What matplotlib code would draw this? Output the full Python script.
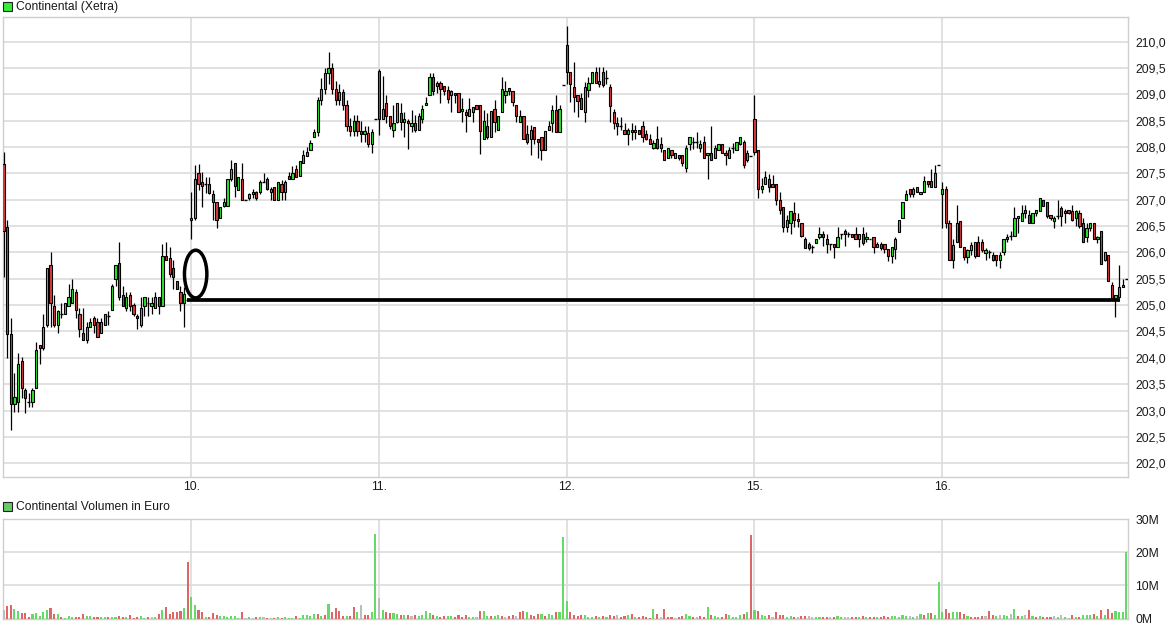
import matplotlib
matplotlib.use("Agg")
import matplotlib.pyplot as plt
from matplotlib.patches import Rectangle, Ellipse
import numpy as np

plt.rcParams['font.family'] = ['Liberation Sans', 'DejaVu Sans']

# ---------------- data (10-minute candles, (open, high, low, close)) ----------------
day_labels = ["09.", "10.", "11.", "12.", "15.", "16."]

d09 = [(207.68, 207.90, 205.54, 206.40), (206.49, 206.61, 204.00, 204.45), (204.45, 204.75, 202.63, 203.12),
       (203.12, 203.71, 202.98, 203.26), (203.17, 204.09, 202.98, 203.88), (203.94, 204.01, 203.24, 203.42),
       (203.39, 203.42, 202.96, 203.23), (203.17, 203.33, 203.07, 203.17), (203.17, 203.42, 203.07, 203.39),
       (203.42, 204.30, 203.42, 204.15), (204.24, 204.24, 203.88, 204.18), (204.18, 204.84, 204.15, 204.59),
       (204.63, 205.70, 204.59, 205.70), (205.76, 206.00, 204.59, 205.05), (204.99, 205.20, 204.59, 204.63),
       (204.63, 204.91, 204.48, 204.89), (204.84, 205.05, 204.75, 204.84), (204.84, 205.05, 204.84, 205.05),
       (204.99, 205.40, 204.99, 205.15), (205.05, 205.49, 205.05, 205.30), (205.24, 205.30, 204.75, 204.91),
       (204.84, 204.95, 204.40, 204.54), (204.48, 204.95, 204.33, 204.33), (204.33, 204.68, 204.29, 204.59),
       (204.59, 204.75, 204.59, 204.68), (204.75, 204.79, 204.48, 204.63), (204.68, 204.75, 204.40, 204.40),
       (204.48, 204.75, 204.48, 204.68), (204.63, 204.84, 204.63, 204.84), (204.80, 204.89, 204.63, 204.80),
       (204.91, 205.40, 204.91, 205.37), (205.49, 205.76, 205.37, 205.76), (205.79, 206.19, 205.10, 205.15),
       (205.20, 205.37, 204.99, 204.99), (204.94, 205.24, 204.89, 205.15), (205.20, 205.24, 204.89, 204.99),
       (205.00, 205.05, 204.79, 204.84), (204.79, 204.84, 204.54, 204.75), (204.63, 205.15, 204.59, 204.94),
       (204.99, 205.15, 204.79, 205.15), (205.05, 205.15, 204.79, 205.05), (204.99, 205.15, 204.84, 205.05),
       (204.94, 205.24, 204.94, 205.15), (205.15, 205.15, 204.84, 204.99), (204.99, 206.16, 204.99, 205.94),
       (205.94, 206.19, 205.85, 205.85), (205.90, 206.10, 205.54, 205.60), (205.70, 205.85, 205.30, 205.54),
       (205.46, 205.46, 205.30, 205.30), (205.24, 205.37, 204.89, 205.05), (205.05, 205.35, 204.59, 205.22),
       (205.10, 205.10, 205.10, 205.10)]

d10 = [(206.61, 207.15, 206.25, 206.65), (206.65, 207.66, 206.61, 207.40), (207.50, 207.68, 207.18, 207.30),
       (207.34, 207.53, 206.86, 207.26), (207.30, 207.44, 207.13, 207.30), (207.30, 207.44, 207.11, 207.13),
       (207.10, 207.18, 206.61, 206.95), (206.95, 206.95, 206.46, 206.61), (206.65, 206.86, 206.65, 206.86),
       (206.89, 207.04, 206.86, 206.95), (206.89, 207.40, 206.89, 207.40), (207.40, 207.75, 207.36, 207.59),
       (207.69, 207.69, 207.06, 207.26), (207.18, 207.44, 207.18, 207.44), (207.40, 207.69, 207.00, 207.00),
       (207.00, 207.00, 207.00, 207.00), (207.04, 207.13, 206.99, 207.10), (207.10, 207.20, 207.04, 207.14),
       (207.14, 207.17, 206.99, 207.04), (207.14, 207.37, 207.11, 207.34), (207.34, 207.50, 207.34, 207.34),
       (207.40, 207.44, 207.18, 207.20), (207.14, 207.25, 207.00, 207.20), (207.25, 207.25, 207.00, 207.00),
       (207.00, 207.34, 207.00, 207.34), (207.30, 207.37, 207.00, 207.14), (207.14, 207.37, 207.00, 207.34),
       (207.45, 207.53, 207.40, 207.40), (207.40, 207.63, 207.40, 207.50), (207.59, 207.66, 207.44, 207.44),
       (207.45, 207.74, 207.45, 207.74), (207.69, 207.94, 207.69, 207.85), (207.83, 208.00, 207.83, 207.91),
       (207.94, 208.13, 207.94, 208.07), (208.18, 208.35, 208.18, 208.29), (208.29, 208.95, 208.20, 208.90),
       (208.90, 209.30, 208.80, 209.10), (209.10, 209.50, 209.00, 209.40), (209.40, 209.80, 209.20, 209.50),
       (209.50, 209.60, 209.00, 209.10), (209.10, 209.25, 208.80, 208.90), (208.90, 209.20, 208.80, 209.05),
       (209.05, 209.10, 208.70, 208.80), (208.80, 208.90, 208.30, 208.40), (208.40, 208.55, 208.20, 208.30),
       (208.30, 208.60, 208.20, 208.50), (208.50, 208.60, 208.20, 208.30), (208.30, 208.50, 208.10, 208.25),
       (208.25, 208.40, 208.10, 208.30), (208.26, 208.40, 208.00, 208.05), (208.05, 208.35, 207.89, 208.29),
       (208.54, 208.54, 208.54, 208.54)]

d11 = [(209.45, 209.47, 208.22, 208.54), (208.54, 209.35, 208.54, 208.73), (208.83, 208.99, 208.45, 208.59),
       (208.58, 208.58, 208.35, 208.40), (208.33, 208.80, 208.18, 208.45), (208.48, 208.83, 208.45, 208.83),
       (208.64, 208.83, 208.32, 208.48), (208.48, 208.67, 208.18, 208.54), (208.50, 208.54, 207.97, 208.45),
       (208.40, 208.70, 208.29, 208.45), (208.45, 208.60, 208.29, 208.33), (208.33, 208.64, 208.33, 208.59),
       (208.54, 208.80, 208.45, 208.73), (208.79, 208.95, 208.79, 208.83), (208.98, 209.41, 208.98, 209.32),
       (209.32, 209.40, 208.98, 209.07), (209.16, 209.25, 209.03, 209.22), (209.22, 209.25, 208.83, 209.10),
       (209.16, 209.16, 208.99, 209.07), (209.08, 209.16, 208.83, 208.91), (208.98, 209.08, 208.67, 209.07),
       (209.03, 209.03, 208.83, 208.98), (209.02, 209.02, 208.67, 208.67), (208.68, 208.93, 208.48, 208.73),
       (208.67, 208.73, 208.29, 208.60), (208.59, 208.93, 208.59, 208.73), (208.67, 208.76, 208.48, 208.76),
       (208.80, 208.80, 208.73, 208.73), (208.80, 208.80, 207.86, 208.31), (208.16, 208.70, 208.16, 208.49),
       (208.40, 208.64, 208.16, 208.18), (208.18, 208.69, 208.18, 208.69), (208.73, 208.89, 208.29, 208.48),
       (208.33, 208.58, 208.33, 208.58), (208.67, 209.32, 208.67, 209.10), (208.98, 209.26, 208.83, 209.07),
       (209.12, 209.12, 208.98, 209.07), (209.07, 209.07, 208.77, 208.86), (208.80, 208.80, 208.48, 208.59),
       (208.48, 208.70, 208.48, 208.59), (208.59, 208.59, 208.15, 208.15), (208.25, 208.42, 208.06, 208.09),
       (208.15, 208.42, 207.85, 208.33), (208.38, 208.38, 208.06, 208.15), (208.15, 208.15, 207.79, 208.09),
       (208.18, 208.18, 207.75, 207.94), (207.94, 208.31, 207.94, 208.31), (208.33, 208.50, 208.33, 208.40),
       (208.45, 208.80, 208.29, 208.70), (208.70, 208.99, 208.29, 208.29), (208.29, 208.80, 208.29, 208.73),
       (209.18, 209.18, 209.18, 209.18)]

d12 = [(209.93, 210.30, 209.20, 209.42), (209.42, 209.42, 208.86, 209.19), (209.13, 209.61, 208.67, 208.94),
       (208.99, 208.99, 208.56, 208.88), (208.92, 209.02, 208.73, 208.73), (208.67, 209.24, 208.48, 209.13),
       (209.08, 209.33, 208.94, 209.22), (209.22, 209.42, 209.22, 209.42), (209.42, 209.52, 209.22, 209.22),
       (209.19, 209.52, 209.14, 209.25), (209.43, 209.52, 209.13, 209.17), (209.30, 209.46, 209.20, 209.30),
       (209.13, 209.20, 208.48, 208.77), (208.67, 208.73, 208.35, 208.45), (208.45, 208.56, 208.23, 208.39),
       (208.40, 208.57, 208.33, 208.40), (208.33, 208.45, 208.24, 208.24), (208.24, 208.36, 208.03, 208.33),
       (208.33, 208.46, 208.13, 208.29), (208.29, 208.42, 208.15, 208.33), (208.33, 208.33, 208.24, 208.24),
       (208.39, 208.49, 208.10, 208.18), (208.24, 208.32, 208.13, 208.15), (208.15, 208.24, 208.05, 208.05),
       (207.99, 208.13, 207.96, 208.08), (208.15, 208.40, 207.96, 207.99), (208.05, 208.19, 207.90, 207.99),
       (207.94, 207.94, 207.75, 207.75), (207.80, 207.99, 207.80, 207.99), (207.94, 207.94, 207.80, 207.84),
       (207.80, 207.89, 207.80, 207.89), (207.84, 207.84, 207.75, 207.80), (207.85, 207.85, 207.63, 207.69),
       (207.60, 208.03, 207.53, 207.99), (208.05, 208.18, 207.94, 208.18), (208.09, 208.18, 207.96, 208.09),
       (208.09, 208.29, 207.99, 208.09), (207.99, 208.13, 207.90, 208.05), (208.09, 208.20, 207.80, 207.80),
       (207.85, 207.89, 207.40, 207.89), (207.89, 208.39, 207.75, 207.75), (207.80, 208.03, 207.80, 207.99),
       (207.94, 208.05, 207.94, 208.05), (208.05, 208.05, 207.89, 207.89), (207.89, 207.94, 207.66, 207.85),
       (207.80, 208.00, 207.80, 207.94), (207.99, 208.08, 207.88, 207.99), (207.94, 208.09, 207.94, 208.09),
       (208.05, 208.18, 208.03, 208.18), (208.09, 208.13, 207.60, 207.65), (207.75, 207.94, 207.72, 207.89),
       (207.82, 207.82, 207.82, 207.82)]

d15 = [(208.54, 208.99, 207.85, 207.90), (207.94, 207.94, 207.04, 207.20), (207.20, 207.42, 207.13, 207.26),
       (207.29, 207.55, 207.29, 207.44), (207.40, 207.49, 207.14, 207.25), (207.29, 207.46, 207.25, 207.25),
       (207.29, 207.29, 206.90, 207.00), (207.00, 207.14, 206.73, 206.80), (206.87, 206.87, 206.39, 206.49),
       (206.49, 206.71, 206.39, 206.61), (206.55, 206.79, 206.35, 206.79), (206.74, 206.95, 206.49, 206.61),
       (206.64, 206.74, 206.49, 206.60), (206.55, 206.55, 206.30, 206.31), (206.25, 206.30, 206.08, 206.09),
       (206.16, 206.20, 206.05, 206.09), (206.10, 206.15, 205.99, 206.10), (206.18, 206.25, 206.18, 206.25),
       (206.30, 206.49, 206.25, 206.35), (206.35, 206.40, 206.12, 206.30), (206.25, 206.35, 205.99, 206.16),
       (206.16, 206.16, 206.05, 206.16), (206.16, 206.16, 205.90, 206.10), (206.10, 206.49, 206.10, 206.30),
       (206.35, 206.35, 206.25, 206.35), (206.40, 206.44, 206.12, 206.35), (206.35, 206.38, 206.30, 206.35),
       (206.35, 206.35, 206.30, 206.30), (206.35, 206.49, 206.25, 206.25), (206.25, 206.35, 206.10, 206.35),
       (206.35, 206.49, 206.14, 206.18), (206.25, 206.38, 206.20, 206.30), (206.25, 206.25, 206.25, 206.25),
       (206.30, 206.30, 205.99, 206.10), (206.10, 206.20, 206.10, 206.16), (206.16, 206.20, 206.05, 206.09),
       (206.16, 206.16, 205.99, 206.06), (206.06, 206.06, 205.84, 205.94), (205.94, 206.10, 205.79, 206.10),
       (206.06, 206.30, 205.88, 206.25), (206.39, 206.61, 206.39, 206.61), (206.65, 206.95, 206.65, 206.95),
       (206.99, 207.19, 206.99, 207.10), (207.20, 207.20, 207.05, 207.10), (207.10, 207.25, 207.05, 207.20),
       (207.25, 207.25, 207.15, 207.15), (207.10, 207.15, 207.10, 207.15), (207.15, 207.45, 207.15, 207.36),
       (207.36, 207.36, 207.25, 207.29), (207.36, 207.59, 207.25, 207.25), (207.25, 207.66, 207.25, 207.50),
       (207.65, 207.65, 207.65, 207.65)]

d16 = [(207.10, 207.34, 206.46, 207.20), (207.20, 207.26, 206.46, 206.56), (206.55, 206.61, 205.85, 205.85),
       (205.85, 206.25, 205.70, 206.15), (206.19, 206.90, 206.19, 206.55), (206.60, 206.60, 206.10, 206.10),
       (206.10, 206.10, 205.85, 205.91), (205.91, 206.07, 205.79, 206.05), (206.05, 206.20, 205.95, 206.14),
       (205.94, 206.19, 205.89, 206.19), (206.19, 206.31, 205.94, 205.94), (206.19, 206.25, 206.01, 206.05),
       (205.99, 206.09, 205.85, 206.05), (206.00, 206.05, 205.89, 206.00), (205.95, 206.00, 205.84, 205.86),
       (205.95, 205.95, 205.74, 205.86), (205.86, 206.00, 205.70, 205.95), (206.00, 206.25, 205.95, 206.25),
       (206.25, 206.35, 206.19, 206.30), (206.31, 206.40, 206.24, 206.31), (206.31, 206.87, 206.31, 206.65),
       (206.65, 206.70, 206.37, 206.70), (206.60, 206.90, 206.60, 206.75), (206.80, 206.90, 206.65, 206.75),
       (206.71, 206.80, 206.55, 206.55), (206.55, 206.75, 206.55, 206.75), (206.75, 206.81, 206.69, 206.81),
       (206.79, 207.04, 206.79, 207.04), (207.00, 207.00, 206.89, 206.89), (206.95, 206.95, 206.65, 206.69),
       (206.71, 206.71, 206.61, 206.65), (206.60, 206.69, 206.46, 206.65), (206.70, 207.00, 206.63, 206.70),
       (206.85, 206.88, 206.50, 206.70), (206.75, 206.82, 206.55, 206.78), (206.80, 206.80, 206.73, 206.75),
       (206.79, 206.90, 206.60, 206.61), (206.65, 206.80, 206.50, 206.79), (206.75, 206.80, 206.46, 206.50),
       (206.55, 206.65, 206.19, 206.19), (206.29, 206.55, 206.19, 206.46), (206.46, 206.55, 206.40, 206.55),
       (206.55, 206.55, 206.25, 206.25), (206.25, 206.31, 206.17, 206.30), (206.40, 206.40, 205.78, 205.78),
       (205.86, 206.00, 205.83, 206.00), (205.95, 205.95, 205.45, 205.45), (205.39, 205.44, 205.11, 205.11),
       (205.11, 205.20, 204.78, 205.20), (205.16, 205.76, 205.16, 205.35), (205.35, 205.50, 205.35, 205.39),
       (205.49, 205.49, 205.49, 205.49)]

# volume in million euro per candle, and bar colour (g = up, r = down, n = unchanged)
vol09 = [2.7, 3.9, 4.2, 3.0, 2.2, 1.8, 1.8, 0.6, 1.5, 1.8, 0.9, 2.1, 2.7, 3.3, 1.5, 1.5, 0.6, 0.3, 0.9, 0.6,
         0.6, 0.6, 1.5, 0.9, 0.9, 0.6, 0.6, 0.6, 0.6, 0.6, 0.6, 0.6, 0.9, 0.6, 0.6, 1.2, 0.3, 0.6, 0.9, 0.3,
         0.6, 0.6, 0.6, 1.5, 2.7, 3.6, 1.5, 2.1, 2.1, 2.4, 3.3, 17.1]
vcol09 = "nrrggrrrgg" "gggrrgrggg" "rrrggrrggr" "ggrrgrrrgg" "rngrgrrrrr" "gr"
vol10 = [6.4, 4.2, 2.7, 2.1, 0.6, 0.6, 1.8, 1.2, 0.9, 0.9, 0.6, 0.9, 0.9, 0.3, 2.1, 0.3, 0.6, 0.1, 0.6, 0.6,
         0.6, 0.3, 0.3, 0.3, 0.6, 0.3, 0.6, 0.3, 0.3, 0.9, 0.3, 1.2, 1.2, 0.9, 1.5, 1.5, 0.9, 1.2, 4.5, 2.1,
         3.3, 2.4, 0.9, 0.9, 0.9, 3.6, 2.1, 4.2, 1.2, 1.2, 2.1, 25.5]
vcol10 = "ggrrgrrrgg" "ggggrngnrg" "nrnrgrgggr" "gggggrgrgr" "rrrgrrgnrr" "gg"
vol11 = [6.1, 2.5, 1.9, 1.6, 1.6, 1.3, 1.0, 1.0, 1.0, 0.7, 1.0, 0.7, 1.0, 2.2, 1.6, 1.0, 0.7, 0.5, 0.7, 0.7,
         0.7, 0.5, 1.0, 0.5, 1.0, 0.5, 0.5, 0.5, 2.2, 2.2, 0.7, 0.7, 0.7, 1.0, 0.7, 0.5, 0.7, 1.0, 0.7, 1.9,
         2.2, 1.9, 1.0, 0.7, 1.3, 1.3, 0.7, 1.3, 1.0, 1.9, 1.9, 24.7]
vcol11 = "ngrrggrgrn" "rggggrgrrg" "grrrrggnrg" "grggrnrrnr" "rgrrrgrggr" "gg"
vol12 = [5.3, 1.9, 1.0, 0.7, 1.0, 1.0, 0.5, 0.5, 0.7, 0.5, 0.7, 0.5, 1.0, 0.7, 1.0, 0.5, 0.7, 1.0, 1.3, 0.5,
         0.5, 0.7, 0.5, 0.2, 2.8, 1.3, 0.5, 2.8, 0.5, 0.5, 0.2, 0.5, 0.7, 1.3, 0.7, 0.5, 0.5, 0.7, 0.5, 3.4,
         1.0, 0.7, 0.5, 0.5, 1.3, 1.0, 0.5, 0.5, 1.0, 1.3, 1.9, 25.4]
vcol12 = "grrrrgggrg" "rgrrnrrgrg" "rrrrgrnrrr" "nrrggrnrrg" "rggrrggggr" "gr"
vol15 = [2.5, 2.2, 1.0, 0.7, 1.0, 0.5, 1.9, 1.0, 1.0, 0.5, 0.7, 0.5, 0.5, 0.7, 0.7, 0.7, 0.5, 0.5, 0.5, 0.5,
         0.5, 0.5, 0.5, 0.7, 0.5, 0.5, 0.5, 0.5, 0.5, 0.5, 0.7, 0.5, 0.5, 0.5, 0.5, 0.5, 0.7, 0.5, 0.7, 0.7,
         0.5, 1.0, 0.7, 0.7, 0.5, 0.7, 1.3, 1.0, 1.6, 1.6, 1.0, 11.1]
vcol15 = "grggrnrrrg" "grnrrnnggr" "rnrggnnrrg" "rgrrgrrrgg" "gggngngrgr" "gg"
vol16 = [2.0, 2.8, 1.6, 1.9, 1.9, 1.9, 1.3, 0.7, 0.5, 0.5, 0.5, 0.7, 0.7, 2.2, 1.0, 0.7, 1.0, 1.0, 0.7, 1.3,
         2.8, 0.7, 0.7, 1.0, 2.5, 0.7, 0.5, 0.7, 0.5, 0.5, 0.5, 0.7, 0.5, 1.0, 0.5, 0.2, 1.0, 0.5, 0.5, 1.0,
         1.0, 1.0, 1.3, 0.7, 2.5, 1.0, 2.8, 1.6, 2.2, 1.9, 1.9, 20.0]
vcol16 = "grrggrrgrr" "rrnrrgnggn" "grgnrgrgrr" "rngngnrgrg" "ggrgrgrrgg" "gg"

price_ticks = np.arange(202.0, 210.01, 0.5)
vol_ticks = [0, 10, 20, 30]

# hand-drawn annotation (gap marker + support line at previous-day close)
gap_ellipse_center = (53.2, 205.59)
gap_ellipse_size = (6.2, 0.905)
support_start, support_end = 50.7, 309.2

# ---------------- assemble ----------------
days = [d09, d10, d11, d12, d15, d16]
ohlc = [c for d in days for c in d]
vols = vol09 + vol10 + vol11 + vol12 + vol15 + vol16
vcols = vcol09 + vcol10 + vcol11 + vcol12 + vcol15 + vcol16
day_starts = np.cumsum([0] + [len(d) for d in days])[:-1]
support_level = d09[-1][3]

W, H = 1175, 630
fig = plt.figure(figsize=(W / 100, H / 100), dpi=100)
fig.patch.set_facecolor('white')

L, R = 2.7, 1128.3
ax = fig.add_axes([L / W, 1 - 477 / H, (R - L) / W, (477 - 17.3) / H])
axv = fig.add_axes([L / W, 1 - 618.5 / H, (R - L) / W, (618.5 - 519.3) / H])

GREEN = '#2ee62e'
RED = '#e03a3a'
grid_c = '#dcdcdc'
text_c = '#1a1a1a'

n = len(ohlc)
xmin, xmax = -0.25, n - 0.45

for i, (o, h, l, c) in enumerate(ohlc):
    ax.vlines(i, l, h, color='black', lw=0.9, zorder=3)
    bw = 0.62
    if abs(c - o) < 1e-9:
        ax.hlines(o, i - bw / 2 - 0.1, i + bw / 2 + 0.1, color='black', lw=1.0, zorder=4)
    else:
        ax.add_patch(Rectangle((i - bw / 2, min(o, c)), bw, abs(c - o),
                               facecolor=GREEN if c > o else RED, edgecolor='black',
                               lw=0.8, zorder=4))

ax.add_patch(Ellipse(gap_ellipse_center, gap_ellipse_size[0], gap_ellipse_size[1],
                     fill=False, edgecolor='black', lw=2.5, zorder=6))
ax.plot([support_start, support_end], [support_level, support_level], color='black',
        lw=2.7, solid_capstyle='butt', zorder=6)

ax.set_xlim(xmin, xmax)
ax.set_ylim(201.74, 210.46)
ax.set_yticks(price_ticks)
ax.set_yticklabels([f"{v:.1f}".replace('.', ',') for v in price_ticks])
ax.yaxis.tick_right()
ax.set_xticks(day_starts[1:])
ax.set_xticklabels(day_labels[1:])
ax.tick_params(axis='both', length=0, labelsize=8.7, colors=text_c)
ax.tick_params(axis='y', pad=5)
ax.tick_params(axis='x', pad=3)
ax.grid(True, color=grid_c, lw=1.2, zorder=0)
ax.set_axisbelow(True)
for s in ax.spines.values():
    s.set_color('#cfcfcf')
    s.set_linewidth(1.0)

VCOL = {'g': '#66d966', 'r': '#dd6666', 'n': '#bdbdbd'}
axv.bar(np.arange(n), vols, width=0.58, color=[VCOL[k] for k in vcols], zorder=3, linewidth=0)
axv.set_xlim(xmin, xmax)
axv.set_ylim(0, 30)
axv.set_yticks(vol_ticks)
axv.set_yticklabels([f"{v}M" for v in vol_ticks])
axv.yaxis.tick_right()
axv.set_xticks(day_starts[1:])
axv.set_xticklabels([])
axv.tick_params(axis='both', length=0, labelsize=8.7, colors=text_c)
axv.tick_params(axis='y', pad=5)
axv.grid(True, color=grid_c, lw=1.2, zorder=0)
axv.set_axisbelow(True)
for s in axv.spines.values():
    s.set_color('#cfcfcf')
    s.set_linewidth(1.0)

# legend-like titles
fig.patches.append(Rectangle((2.7 / W, 1 - 10.7 / H), 9 / W, 9 / H, transform=fig.transFigure,
                             facecolor='#33ee33', edgecolor='#222222', lw=0.8))
fig.text(16 / W, 1 - 6.8 / H, "Continental (Xetra)", va='center', ha='left', fontsize=8.7, color=text_c)
fig.patches.append(Rectangle((3.3 / W, 1 - 510.7 / H), 8.5 / W, 8.5 / H, transform=fig.transFigure,
                             facecolor='#66cc66', edgecolor='#222222', lw=0.8))
fig.text(16 / W, 1 - 506.8 / H, "Continental Volumen in Euro", va='center', ha='left', fontsize=8.7,
         color=text_c)

fig.savefig("out.png", dpi=100, facecolor='white')
